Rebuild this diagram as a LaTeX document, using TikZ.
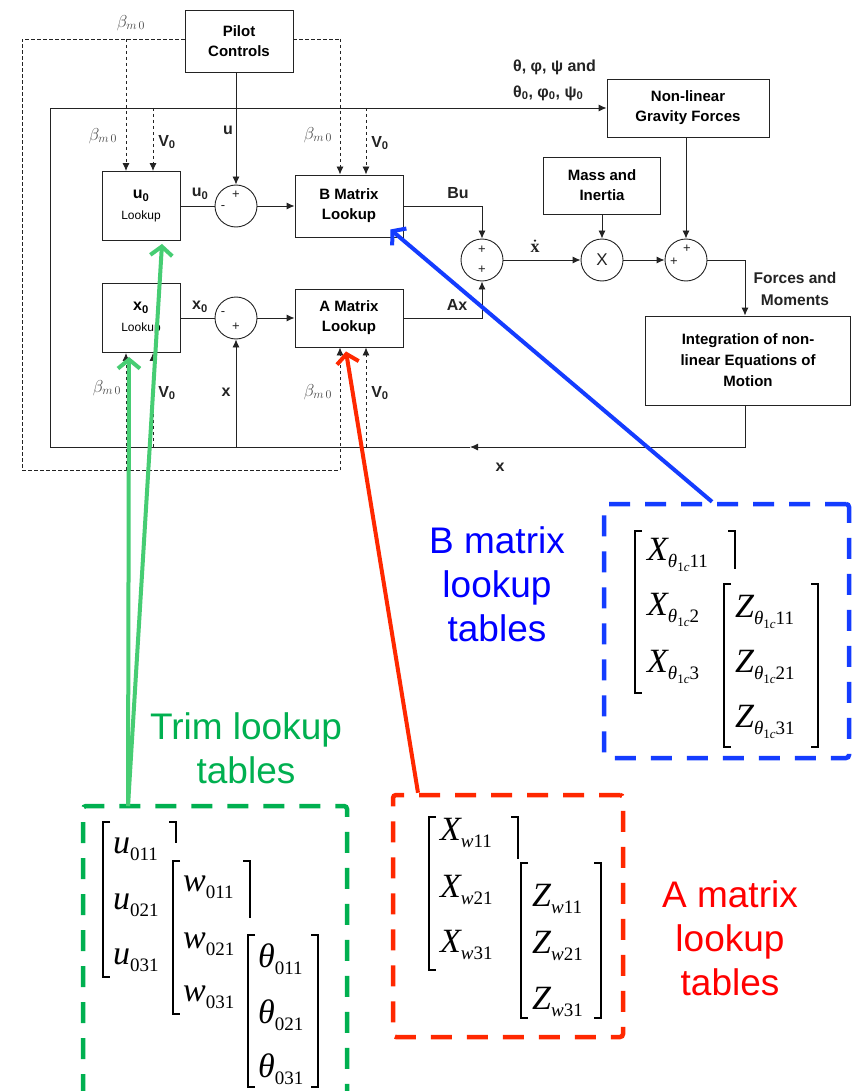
\documentclass[tikz,border=0pt]{standalone}
\usepackage{fontspec}
\setmainfont{Liberation Sans}
\newfontfamily\mxfont{Liberation Serif}
\usetikzlibrary{arrows.meta,calc}

\definecolor{tgreen}{RGB}{0,176,80}
\definecolor{agreen}{RGB}{70,205,115}
\definecolor{tblue}{RGB}{0,0,255}
\definecolor{bblue}{RGB}{20,60,255}
\definecolor{tred}{RGB}{255,0,0}
\definecolor{bred}{RGB}{255,40,0}
\definecolor{ink}{RGB}{35,35,35}
\definecolor{bgray}{RGB}{70,70,70}

\newcommand{\me}[2]{{\fontsize{34}{34}\selectfont\itshape #1}\raisebox{-7pt}{\fontsize{19}{19}\selectfont #2}}
\newcommand{\thc}{{\itshape θ}\raisebox{-4pt}{\fontsize{13}{13}\selectfont 1{\itshape c}}}
\newcommand{\bmz}{$\beta_{m\,0}$}

\tikzset{
  ln/.style={draw=ink, line width=0.9pt},
  arr/.style={-{Latex[length=8pt,width=7pt]}},
  dsh/.style={draw=ink, line width=0.9pt, dash pattern=on 3.5pt off 2.5pt},
  blk/.style={draw=ink, line width=0.9pt, align=center, inner sep=0,
    font=\fontsize{15}{20}\selectfont\bfseries},
  sumc/.style={circle, draw=ink, line width=0.9pt, minimum size=42, inner sep=0},
  sgn/.style={inner sep=0, font=\fontsize{13}{13}\selectfont, text=ink},
  lbl/.style={inner sep=0, font=\fontsize{16}{20}\selectfont\bfseries, text=ink},
  bml/.style={inner sep=0, font=\fontsize{17}{17}\selectfont, text=bgray},
  ent/.style={anchor=base west, inner sep=0, font=\mxfont},
  brk/.style={draw=black, line width=1.6pt},
  carr/.style={line width=4pt, -{Straight Barb[length=9pt,width=22pt]}},
  cbox/.style={line width=4.5pt, dash pattern=on 21pt off 15pt, rounded corners=3pt},
  big/.style={inner sep=0, align=center, font=\fontsize{37}{44}\selectfont},
}

\begin{document}
\begin{tikzpicture}[x=1pt,y=-1pt]
\fill[white] (0,0) rectangle (857,1091);
\useasboundingbox (0,0) rectangle (857,1091);

% blocks
\node[blk, minimum width=108, minimum height=62] (pilot) at (239,41) {Pilot\\Controls};
\node[blk, minimum width=78, minimum height=69] (u0lk) at (141,206)
  {{\fontsize{16}{18}\selectfont u\textsubscript{0}}\\[1pt]{\fontsize{12}{14}\selectfont\mdseries Lookup}};
\node[blk, minimum width=78, minimum height=69] (x0lk) at (141,318)
  {{\fontsize{16}{18}\selectfont x\textsubscript{0}}\\[1pt]{\fontsize{12}{14}\selectfont\mdseries Lookup}};
\node[blk, minimum width=108, minimum height=62] (bmat) at (349,206) {B Matrix\\Lookup};
\node[blk, minimum width=108, minimum height=58] (amat) at (349,318) {A Matrix\\Lookup};
\node[blk, minimum width=162, minimum height=58] (grav) at (688,108) {Non-linear\\Gravity Forces};
\node[blk, minimum width=117, minimum height=57] (mass) at (602,185.5) {Mass and\\Inertia};
\node[blk, minimum width=205, minimum height=89, font=\fontsize{15}{21}\selectfont\bfseries] (integ) at (748,360.5)
  {Integration of non-\\linear Equations of\\Motion};

\node[sumc] (s1) at (236,206) {};
\node[sumc] (ssub) at (236,318) {};
\node[sumc] (s2) at (482,260) {};
\node[sumc, font=\fontsize{17}{17}\selectfont, text=ink] (smul) at (602,260) {X};
\node[sumc] (s3) at (686,260) {};

% signs
\node[sgn] at ($(s1)+(0,-11)$) {+};
\node[sgn] at ($(s1)+(-13,2)$) {-};
\node[sgn] at ($(ssub)+(-13,-4)$) {-};
\node[sgn] at ($(ssub)+(0,9)$) {+};
\node[sgn] at ($(s2)+(0,-10)$) {+};
\node[sgn] at ($(s2)+(0,10)$) {+};
\node[sgn] at ($(s3)+(-12,2)$) {+};
\node[sgn] at ($(s3)+(1,-11)$) {+};

% solid connections
\draw[ln,arr] (s1 |- pilot.south) -- (s1.north);
\draw[ln] (u0lk.east) -- (s1.west);
\draw[ln,arr] (s1.east) -- (bmat.west);
\draw[ln] (x0lk.east) -- (ssub.west);
\draw[ln,arr] (ssub.east) -- (amat.west);
\draw[ln,arr] (bmat.east) -- (s2 |- bmat.east) -- (s2.north);
\draw[ln,arr] (amat.east) -- (s2 |- amat.east) -- (s2.south);
\draw[ln,arr] (s2.east) -- (smul.west);
\draw[ln,arr] (smul.east) -- (s3.west);
\draw[ln,arr] (smul |- mass.south) -- (smul.north);
\draw[ln,arr] (s3 |- grav.south) -- (s3.north);

\coordinate (fm) at (745,260);
\coordinate (fbr) at (745,447);
\coordinate (fbm) at (470,447);
\coordinate (fbl) at (50,447);
\coordinate (ftl) at (50,108);
\draw[ln] (s3.east) -- (fm);
\draw[ln,arr] (fm) -- (fm |- integ.north);
\draw[ln,arr] (fm |- integ.south) -- (fbr) -- (fbm);
\draw[ln,arr] (fbm) -- (fbl) -- (ftl) -- (grav.west);
\draw[ln,arr] (ssub |- fbl) -- (ssub.south);

% dashed connections
\coordinate (dtl) at (22,39);
\coordinate (dtr) at (340,39);
\coordinate (dbl) at (22,470);
\coordinate (dbr) at (340,470);
\coordinate (dbu) at (126,39);
\coordinate (dbx) at (126,470);
\draw[dsh] (pilot.west |- dtl) -- (dtl) -- (dbl) -- (dbr);
\draw[dsh,arr] (dbr) -- (dbr |- amat.south);
\draw[dsh] (pilot.east |- dtr) -- (dtr);
\draw[dsh,arr] (dtr) -- (dtr |- bmat.north);
\draw[dsh,arr] (dbu) -- (dbu |- u0lk.north);
\draw[dsh,arr] (dbx) -- (dbx |- x0lk.south);
\coordinate (vu) at (153,108);
\coordinate (vb) at (366,108);
\coordinate (vx) at (153,447);
\coordinate (va) at (366,447);
\draw[dsh,arr] (vu) -- (vu |- u0lk.north);
\draw[dsh,arr] (vb) -- (vb |- bmat.north);
\draw[dsh,arr] (vx) -- (vx |- x0lk.south);
\draw[dsh,arr] (va) -- (va |- amat.south);

% labels
\node[bml] at (131,23) {\bmz};
\node[bml] at (103,136) {\bmz};
\node[bml] at (318,135) {\bmz};
\node[bml] at (107,388) {\bmz};
\node[bml] at (318,392) {\bmz};
\node[lbl] at (167,142) {V\textsubscript{0}};
\node[lbl] at (380,143) {V\textsubscript{0}};
\node[lbl] at (167,393) {V\textsubscript{0}};
\node[lbl] at (380,393) {V\textsubscript{0}};
\node[lbl] at (228,130) {u};
\node[lbl] at (226,392) {x};
\node[lbl] at (200,194) {u\textsubscript{0}};
\node[lbl] at (200,307) {x\textsubscript{0}};
\node[lbl] at (458,193) {Bu};
\node[lbl] at (457,305) {Ax};
\node[lbl, font=\fontsize{18}{18}\selectfont\mxfont\bfseries] (xdot) at (535,248) {x};
\fill[ink] ($(xdot.north)+(0,-3)$) circle (1.3);
\node[lbl] at (500,467) {x};
\node[lbl, anchor=west] at (513,67) {θ, φ, ψ and};
\node[lbl, anchor=west] at (513,93) {θ\textsubscript{0}, φ\textsubscript{0}, ψ\textsubscript{0}};
\node[lbl, align=center, font=\fontsize{15.5}{22}\selectfont\bfseries] at (795,289) {Forces and\\Moments};

% coloured boxes
\draw[cbox, draw=tgreen] (83,1095) -- (83,806) -- (347,806) -- (347,1095);
\coordinate (gs) at (128,806);
\node[cbox, draw=bred, minimum width=230, minimum height=242] (rbox) at (508,916) {};
\node[cbox, draw=bblue, minimum width=245, minimum height=254] (bbox) at (726.5,631) {};

\node[big, text=tgreen] at (246,748) {Trim lookup\\tables};
\node[big, text=tblue] at (497,584) {B matrix\\lookup\\tables};
\node[big, text=tred] at (730,938) {A matrix\\lookup\\tables};

% green matrices
\draw[brk] (110,822) -- (103,822) -- (103,977) -- (110,977);
\draw[brk] (169,822) -- (176,822) -- (176,843);
\node[ent] (u1) at (113,853) {\me{u}{011}};
\node[ent] (u2) at (113,909) {\me{u}{021}};
\node[ent] (u3) at (113,964) {\me{u}{031}};
\draw[brk] (180,861) -- (173,861) -- (173,1014) -- (180,1014);
\draw[brk] (243,861) -- (250,861) -- (250,918);
\node[ent] (w1) at (183,891) {\me{w}{011}};
\node[ent] (w2) at (183,948) {\me{w}{021}};
\node[ent] (w3) at (183,1001) {\me{w}{031}};
\draw[brk] (255,935) -- (248,935) -- (248,1087) -- (255,1087);
\draw[brk] (311,935) -- (318,935) -- (318,1087) -- (311,1087);
\node[ent] (t1) at (258,967) {\me{θ}{011}};
\node[ent] (t2) at (258,1023) {\me{θ}{021}};
\node[ent] (t3) at (258,1077) {\me{θ}{031}};

% red matrices
\draw[brk] (436,817) -- (429,817) -- (429,970) -- (436,970);
\draw[brk] (511,817) -- (518,817) -- (518,859);
\node[ent] (ax1) at (440,840) {\me{X}{{\itshape w}11}};
\node[ent] (ax2) at (440,897) {\me{X}{{\itshape w}21}};
\node[ent] (ax3) at (440,952) {\me{X}{{\itshape w}31}};
\draw[brk] (528,863) -- (521,863) -- (521,1018) -- (528,1018);
\draw[brk] (594,863) -- (601,863) -- (601,1018) -- (594,1018);
\node[ent] (az1) at (532,906) {\me{Z}{{\itshape w}11}};
\node[ent] (az2) at (532,953) {\me{Z}{{\itshape w}21}};
\node[ent] (az3) at (532,1009) {\me{Z}{{\itshape w}31}};

% blue matrices
\draw[brk] (642,531) -- (635,531) -- (635,693) -- (642,693);
\draw[brk] (728,531) -- (735,531) -- (735,569);
\node[ent] (bx1) at (647,560) {\me{X}{\thc 11}};
\node[ent] (bx2) at (647,615) {\me{X}{\thc 2}};
\node[ent] (bx3) at (647,672) {\me{X}{\thc 3}};
\draw[brk] (731,584) -- (724,584) -- (724,747) -- (731,747);
\draw[brk] (811,584) -- (818,584) -- (818,747) -- (811,747);
\node[ent] (bz1) at (735,617) {\me{Z}{\thc 11}};
\node[ent] (bz2) at (735,672) {\me{Z}{\thc 21}};
\node[ent] (bz3) at (735,727) {\me{Z}{\thc 31}};

% coloured arrows
\draw[carr, draw=agreen] (gs) -- ($(x0lk.south)+(-12,4)$);
\draw[carr, draw=agreen] (gs) -- ($(u0lk.south)+(21,3)$);
\draw[carr, draw=bblue] ($(bbox.north)+(-14.5,0)$) -- ($(bmat.south east)+(-13,-8)$);
\draw[carr, draw=bred] ($(rbox.north)+(-90,0)$) -- ($(amat.south)+(-3,4)$);
\end{tikzpicture}
\end{document}
